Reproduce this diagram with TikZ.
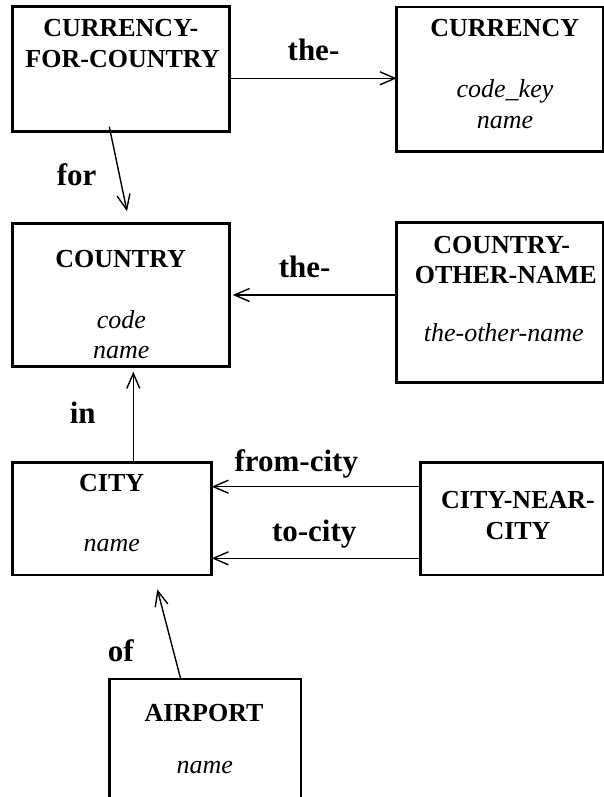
\documentclass[tikz,border=0pt]{standalone}
\usepackage{fontspec}
\setmainfont{Liberation Serif}
\usetikzlibrary{arrows.meta,calc}
\begin{document}
\begin{tikzpicture}[x=1pt,y=-1pt,
  entity/.style={draw, line width=2.8pt, rectangle, inner sep=0pt, outer sep=0pt, anchor=north west},
  title/.style={font=\fontsize{26}{30}\selectfont\bfseries, anchor=base, inner sep=0pt},
  attr/.style={font=\fontsize{26}{30}\selectfont\itshape, anchor=base, inner sep=0pt},
  role/.style={font=\fontsize{31}{36}\selectfont\bfseries, anchor=base, inner sep=0pt},
  link/.style={line width=1.4pt, -{Straight Barb[length=15pt,width=13pt]}}]
\fill[white] (0,0) rectangle (604,797);
\useasboundingbox (0,0) rectangle (604,797);

% entity boxes
\node[entity, minimum width=217pt, minimum height=125pt] (cfc) at (12.7,6.8) {};
\node[entity, minimum width=206.3pt, minimum height=144.7pt] (cur) at (396.7,7) {};
\node[entity, minimum width=216.6pt, minimum height=143.4pt] (country) at (12.7,223.3) {};
\node[entity, minimum width=206.3pt, minimum height=160pt] (cotn) at (396.7,222.7) {};
\node[entity, minimum width=199pt, minimum height=112.3pt] (city) at (12.7,462.7) {};
\node[entity, minimum width=182.3pt, minimum height=112.3pt] (cnc) at (420.7,462.7) {};
\node[entity, minimum width=191.7pt, minimum height=130pt] (airport) at (109.3,679) {};

% entity names and attributes
\node[title] (cfc1) at (120.8,36.7) {CURRENCY-};
\node[title] (cfc2) at (122.5,67.7) {FOR-COUNTRY};
\node[title] (cur1) at (504.7,36.7) {CURRENCY};
\node[attr] (cur2) at (505,97.3) {code\_key};
\node[attr] (cur3) at (505,128.3) {name};
\node[title] (cty1) at (120.7,267.3) {COUNTRY};
\node[attr] (cty2) at (121.3,328.3) {code};
\node[attr] (cty3) at (121.3,358.3) {name};
\node[title] (con1) at (501.7,253.3) {COUNTRY-};
\node[title] (con2) at (505.8,283.3) {OTHER-NAME};
\node[attr] (con3) at (503.7,341.7) {the-other-name};
\node[title] (cit1) at (111.7,491.7) {CITY};
\node[attr] (cit2) at (111.7,551.7) {name};
\node[title] (cnc1) at (518,508.3) {CITY-NEAR-};
\node[title] (cnc2) at (518,539.3) {CITY};
\node[title] (air1) at (204,721.7) {AIRPORT};
\node[attr] (air2) at (204.7,773.3) {name};

% role labels
\node[role] (r1) at (313.5,61) {the-};
\node[role] (r2) at (76.7,185) {for};
\node[role] (r3) at (304.6,277.3) {the-};
\node[role] (r4) at (82.8,423.3) {in};
\node[role] (r5) at (296.3,471.7) {from-city};
\node[role] (r6) at (314.2,541.7) {to-city};
\node[role] (r7) at (120.7,661.7) {of};

% connector heights
\coordinate (h1) at (0,78.3);
\coordinate (h2) at (0,295);
\coordinate (h3) at (0,486.7);
\coordinate (h4) at (0,558.3);

% connectors
\draw[link] (cfc.east |- h1) -- (cur.west |- h1);
\draw[link] ($(cfc.south west)+(96.6,-5.1)$) -- ($(country.north west)+(114.3,-12)$);
\draw[link] (cotn.west |- h2) -- ($(country.east |- h2)+(3.5,0)$);
\draw[link] ($(city.north west)+(120.6,0)$) -- ($(country.south west)+(120.6,5)$);
\draw[link] (cnc.west |- h3) -- (city.east |- h3);
\draw[link] (cnc.west |- h4) -- (city.east |- h4);
\draw[link] ($(airport.north west)+(71.4,0)$) -- ($(city.south west)+(144.6,14.3)$);
\end{tikzpicture}
\end{document}
